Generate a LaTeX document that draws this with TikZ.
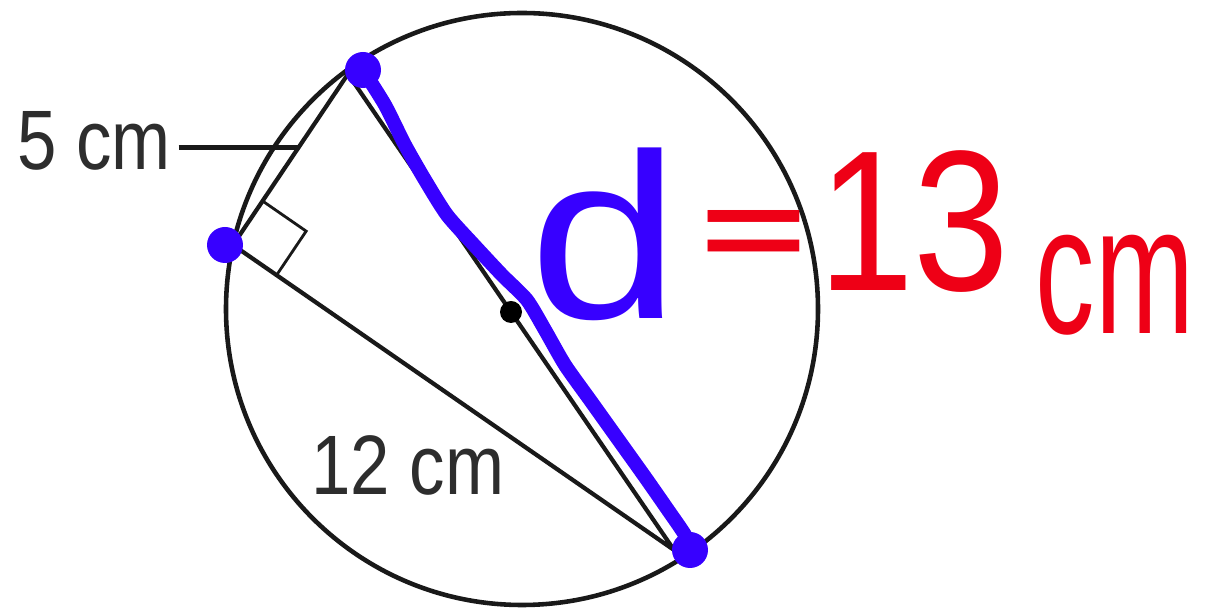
\documentclass[tikz,border=0pt]{standalone}
\usepackage{fontspec}
\setmainfont{Liberation Sans}
\usetikzlibrary{calc}
\definecolor{penBlue}{RGB}{55,0,255}
\definecolor{penRed}{RGB}{238,0,22}
\definecolor{inkGray}{RGB}{45,45,45}
\tikzset{
  edge/.style    = {line width=1.2pt, black!90},
  pen/.style     = {line width=4pt, line cap=round, line join=round},
  bluepen/.style = {pen, penBlue},
  measure/.style = {font=\fontsize{24}{28}\selectfont, text=inkGray, inner sep=2pt},
  scrawl/.style  = {inner sep=0pt}
}

\begin{document}
\begin{tikzpicture}
  \useasboundingbox (0,0) rectangle (12.17,6.12);
  % Points
  \coordinate (O) at (5.22,3.03);
  \coordinate (A) at (3.48,5.38);
  \coordinate (B) at (2.33,3.67);
  \coordinate (C) at (6.74,0.62);
  \coordinate (M) at ($(A)!0.5!(C)$);

  % Circle and triangle
  \draw[edge, line width=1.3pt] (O) circle (2.96);
  \draw[edge] (A) -- (B) -- (C) -- cycle;

  % Right angle
  \coordinate (ra) at ($(B)!0.53cm!(A)$);
  \coordinate (rc) at ($(B)!0.53cm!(C)$);
  \draw[line width=0.8pt, black!90] (ra) -- ($(ra)+(rc)-(B)$) -- (rc);
  \fill (M) circle (0.11);

  % Labels
  \node[measure] (five) at (0.94,4.71) {\scalebox{0.84}[1]{5 cm}};
  \coordinate (ab) at ($(B)!0.57!(A)$);
  \draw[edge] (five.east |- ab) -- (ab);
  \node[measure] (twelve) at (4.08,1.47) {\scalebox{0.84}[1]{12 cm}};

  % Handwritten diameter
  \coordinate (dA) at (3.63,5.42);
  \coordinate (dB) at (2.25,3.67);
  \coordinate (dC) at (6.90,0.62);
  \draw[bluepen] plot[smooth, tension=0.4] coordinates {(dA) (3.85,5.07)
    (4.05,4.67) (4.25,4.32) (4.47,3.97) (4.74,3.67) (5.02,3.37) (5.27,3.12)
    (5.45,2.82) (5.65,2.47) (5.90,2.12) (6.15,1.77) (6.45,1.35) (6.68,1.02)
    (6.85,0.77) (dC)};
  \foreach \p in {dA,dB,dC}
    \fill[penBlue] (\p) circle (0.18);

  % Handwritten result
  \node[scrawl, text=penBlue, font=\fontsize{67}{70}\selectfont]
    (dia) at (6.05,3.78) {\scalebox{1.15}[1]{d}};
  \node[scrawl, text=penRed, font=\fontsize{52}{56}\selectfont\bfseries]
    (eq) at (7.54,3.73) {\scalebox{1}[0.6]{=}};
  \node[scrawl, text=penRed, font=\fontsize{57}{60}\selectfont]
    (num) at (9.14,3.90) {\scalebox{0.86}[1]{13}};
  \node[scrawl, text=penRed, font=\fontsize{52}{56}\selectfont]
    (unit) at (11.15,3.27) {\scalebox{0.65}[1]{cm}};
\end{tikzpicture}
\end{document}
